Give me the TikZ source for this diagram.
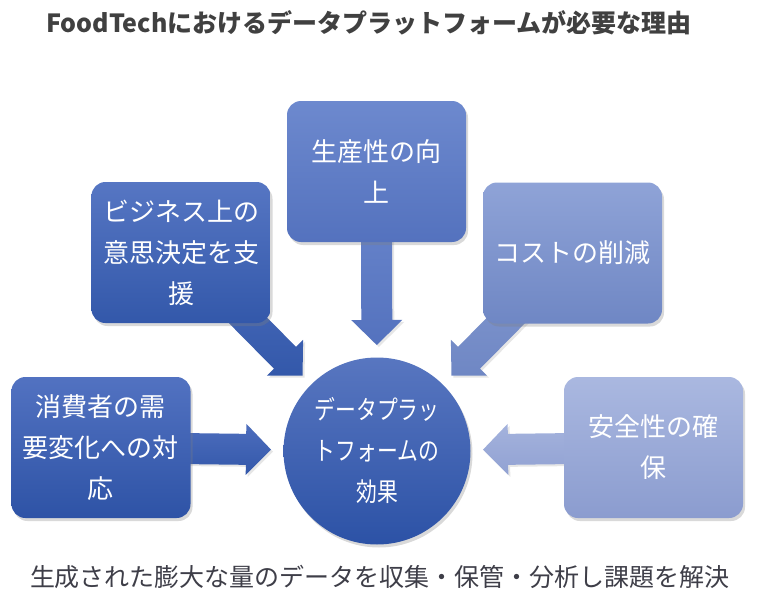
\documentclass[tikz,border=0pt]{standalone}
\usepackage{fontspec}
\setmainfont{Noto Sans CJK JP}[CharacterWidth=Proportional]
\newfontfamily\narrowfont{Noto Sans CJK JP}[CharacterWidth=Proportional, FakeStretch=0.8]
\usetikzlibrary{calc}
\usetikzlibrary{shadows}
\usetikzlibrary{backgrounds}
\definecolor{ink}{HTML}{404040}
\definecolor{inkb}{HTML}{3E3E48}
\definecolor{b1t}{HTML}{5272C1}
\definecolor{b1b}{HTML}{2E53A6}
\definecolor{b2t}{HTML}{5676C3}
\definecolor{b2b}{HTML}{3358AA}
\definecolor{b3t}{HTML}{6D89CE}
\definecolor{b3b}{HTML}{5472BE}
\definecolor{b4t}{HTML}{8FA3D7}
\definecolor{b4b}{HTML}{6F87C4}
\definecolor{b5t}{HTML}{AAB8E0}
\definecolor{b5b}{HTML}{8B9CCF}
\definecolor{eft}{HTML}{5876C0}
\definecolor{efb}{HTML}{2C52A6}
\tikzset{
  benefit/.style={rectangle, rounded corners=14pt, minimum width=179pt, minimum height=141pt,
    text width=170pt, align=center, text=white, font=\fontsize{26pt}{41pt}\selectfont,
    drop shadow={opacity=0.3, shadow xshift=2pt, shadow yshift=-3pt}},
  effect/.style={circle, minimum size=187pt, inner sep=0pt, align=center, text=white,
    font=\narrowfont\fontsize{26pt}{41pt}\selectfont, top color=eft, bottom color=efb,
    drop shadow={opacity=0.3, shadow xshift=2pt, shadow yshift=-3pt}},
  headline/.style={text=ink, font=\fontsize{25pt}{30pt}\selectfont\bfseries, inner sep=0pt},
  summary/.style={text=inkb, font=\fontsize{25pt}{30pt}\selectfont, inner sep=0pt},
  fat/.style={drop shadow={opacity=0.2, shadow xshift=2pt, shadow yshift=-2pt}}
}
\begin{document}
\begin{tikzpicture}[x=1pt,y=-1pt]
\def\shaft{15.5pt}
\def\head{25.5pt}
\def\hlen{25pt}
\def\reach{106pt}
\def\fatarrow#1#2{%
  \coordinate (t) at ($(ef)!\reach!(#2)$);
  \coordinate (h) at ($(t)!\hlen!(#2)$);
  \shade[fat, #1] ($(#2)!\shaft!90:(t)$) -- ($(h)!\shaft!90:(t)$) -- ($(h)!\head!90:(t)$) -- (t)
    -- ($(h)!\head!-90:(t)$) -- ($(h)!\shaft!-90:(t)$) -- ($(#2)!\shaft!-90:(t)$) -- cycle;}
\useasboundingbox (0,0) rectangle (758,610);
\node [headline, name=ttl] at (369,23) {FoodTechにおけるデータプラットフォームが必要な理由};
\node [benefit, top color=b1t, bottom color=b1b, name=g1] at (101,447.5) {消費者の需\\要変化への対\\応};
\node [benefit, top color=b2t, bottom color=b2b, name=g2] at (181,252.5) {ビジネス上の\\意思決定を支\\援};
\node [benefit, top color=b3t, bottom color=b3b, name=g3] at (376.5,171.5) {生産性の向\\上};
\node [benefit, top color=b4t, bottom color=b4b, name=g4] at (572.5,253) {コストの削減};
\node [benefit, top color=b5t, bottom color=b5b, name=g5] at (653.5,447.5) {安全性の確\\保};
\node [effect, name=ef] at (377,451) {データプラッ\\トフォームの\\効果};
\node [summary, name=cap] at (380,577) {生成された膨大な量のデータを収集・保管・分析し課題を解決};
\begin{scope}[on background layer]
\fatarrow{top color=b1t!85!b1b, bottom color=b1b!85!b1t}{g1}
\fatarrow{top color=b2t!80!b2b, bottom color=b2b}{g2}
\fatarrow{top color=b3t, bottom color=b3b}{g3}
\fatarrow{top color=b4t!70!b4b, bottom color=b4b}{g4}
\fatarrow{top color=b5t!80!b5b, bottom color=b5b!80!b5t}{g5}
\end{scope}
\end{tikzpicture}
\end{document}
